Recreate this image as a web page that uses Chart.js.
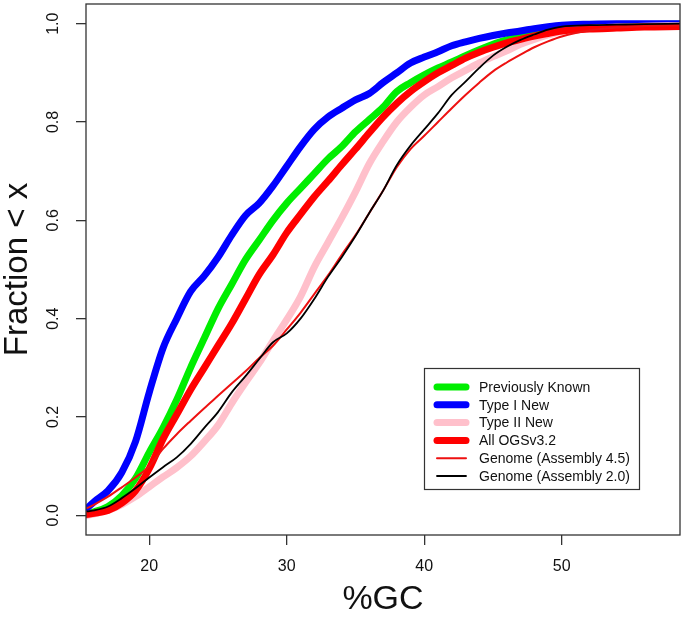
<!DOCTYPE html>
<html>
<head>
<meta charset="utf-8">
<script src="https://cdn.jsdelivr.net/npm/chart.js@4/dist/chart.umd.min.js"></script>
<style>
  html, body { margin: 0; padding: 0; background: #ffffff; }
  #wrap { width: 685px; height: 617px; }
</style>
</head>
<body>
<div id="wrap"><canvas id="c" width="685" height="617"></canvas></div>
<script>
// ---- data (cumulative fraction of genes with %GC < x) ----
const gc = [15.5,16,17,18,19,20,21,22,23,24,25,26,27,28,29,30,31,32,33,34,35,36,37,38,39,40,
            41,42,43,44,45,46,47,48,49,50,52,54,56,58.6];

const previouslyKnown = [0.003,0.007,0.018,0.04,0.075,0.128,0.178,0.235,0.30,0.36,0.42,0.47,0.52,0.56,0.60,0.635,
  0.665,0.695,0.725,0.75,0.78,0.805,0.83,0.862,0.88,0.896,0.91,0.922,0.935,0.947,0.958,0.967,0.975,0.982,0.987,0.991,
  0.995,0.997,0.998,0.999];

const typeINew = [0.015,0.028,0.05,0.087,0.15,0.25,0.34,0.40,0.455,0.487,0.525,0.57,0.61,0.635,0.67,0.71,
  0.75,0.785,0.81,0.828,0.845,0.858,0.88,0.90,0.92,0.932,0.943,0.955,0.963,0.97,0.976,0.981,0.985,0.99,0.994,0.997,
  0.999,1.0,1.0,1.0];

const typeIINew = [0.0,0.003,0.01,0.022,0.038,0.058,0.078,0.097,0.12,0.15,0.183,0.228,0.27,0.31,0.355,0.398,
  0.445,0.505,0.555,0.605,0.658,0.715,0.76,0.80,0.83,0.855,0.872,0.89,0.905,0.92,0.933,0.945,0.958,0.968,0.977,0.984,
  0.99,0.993,0.995,0.996];

const allOGS = [0.002,0.004,0.01,0.025,0.05,0.095,0.155,0.205,0.255,0.30,0.345,0.39,0.44,0.49,0.53,0.575,
  0.612,0.648,0.68,0.713,0.745,0.778,0.81,0.838,0.862,0.882,0.90,0.915,0.93,0.942,0.952,0.961,0.968,0.975,0.98,0.985,
  0.989,0.991,0.993,0.994];

const genome45 = [0.015,0.022,0.038,0.057,0.077,0.10,0.135,0.165,0.192,0.218,0.243,0.268,0.293,0.32,0.345,0.378,
  0.412,0.45,0.488,0.53,0.57,0.615,0.66,0.708,0.745,0.772,0.80,0.828,0.855,0.88,0.903,0.921,0.937,0.952,0.964,0.974,
  0.986,0.992,0.995,0.997];

const genome20 = [0.008,0.01,0.018,0.035,0.055,0.077,0.098,0.118,0.145,0.178,0.21,0.25,0.283,0.318,0.352,0.37,
  0.40,0.44,0.485,0.525,0.568,0.615,0.66,0.712,0.752,0.785,0.818,0.855,0.882,0.91,0.935,0.953,0.967,0.978,0.988,0.994,
  0.997,0.998,0.999,1.0];

const seriesLabels = ['Previously Known','Type I New','Type II New','All OGSv3.2','Genome (Assembly 4.5)','Genome (Assembly 2.0)'];
const xTicks = [20,30,40,50];
const yTicks = [0,0.2,0.4,0.6,0.8,1.0];

// ---- styling ----
const FONT = 'Liberation Sans, Arial, Helvetica, sans-serif';
const styles = [
  { color: '#00ee00', width: 7 },
  { color: '#0000ff', width: 7 },
  { color: '#ffc0cb', width: 7 },
  { color: '#ff0000', width: 7 },
  { color: '#ee1111', width: 2 },
  { color: '#000000', width: 1.8 }
];
const seriesValues = [previouslyKnown, typeINew, typeIINew, allOGS, genome45, genome20];

const datasets = seriesValues.map((vals, i) => ({
  label: seriesLabels[i],
  data: gc.map((x, k) => ({ x: x, y: vals[k] })),
  borderColor: styles[i].color,
  backgroundColor: styles[i].color,
  borderWidth: styles[i].width,
  borderCapStyle: 'round',
  borderJoinStyle: 'round',
  pointRadius: 0,
  fill: false,
  tension: 0,
  cubicInterpolationMode: 'monotone',
  order: seriesValues.length - i,
  clip: 0
}));

const boxPlugin = {
  id: 'rbox',
  afterDatasetsDraw(chart) {
    const a = chart.chartArea, ctx = chart.ctx;
    ctx.save();
    ctx.strokeStyle = '#333';
    ctx.lineWidth = 1.3;
    ctx.strokeRect(a.left, a.top, a.right - a.left, a.bottom - a.top);
    ctx.restore();
  }
};

const legendPlugin = {
  id: 'rlegend',
  afterDraw(chart) {
    const ctx = chart.ctx;
    const bx = 424.5, by = 368.5, bw = 215, bh = 121;
    ctx.save();
    ctx.fillStyle = '#fff';
    ctx.fillRect(bx, by, bw, bh);
    ctx.strokeStyle = '#333';
    ctx.lineWidth = 1.2;
    ctx.strokeRect(bx, by, bw, bh);
    ctx.font = '14px ' + FONT;
    ctx.textBaseline = 'middle';
    ctx.textAlign = 'left';
    chart.data.datasets.forEach((ds, i) => {
      const y = 387 + i * 17.8;
      ctx.beginPath();
      ctx.strokeStyle = ds.borderColor;
      ctx.lineWidth = ds.borderWidth;
      ctx.lineCap = 'round';
      ctx.moveTo(437, y);
      ctx.lineTo(466, y);
      ctx.stroke();
      ctx.fillStyle = '#111';
      ctx.fillText(ds.label, 479, y + 1);
    });
    ctx.restore();
  }
};

const zeroPad = s => { s.paddingTop = 0; s.paddingBottom = 0; s.paddingLeft = 0; s.paddingRight = 0; };

new Chart(document.getElementById('c'), {
  type: 'line',
  data: { datasets: datasets },
  plugins: [boxPlugin, legendPlugin],
  options: {
    responsive: false,
    devicePixelRatio: 1,
    animation: false,
    layout: { padding: { top: 4, right: 5, left: 0, bottom: 0 } },
    plugins: { legend: { display: false }, tooltip: { enabled: false } },
    scales: {
      x: {
        type: 'linear',
        min: 15.4,
        max: 58.6,
        afterBuildTicks: s => { s.ticks = xTicks.map(v => ({ value: v })); },
        afterFit: s => { s.height = 82; zeroPad(s); },
        border: { display: false },
        grid: { drawOnChartArea: false, drawTicks: true, tickLength: 10, tickColor: '#333', color: '#333', lineWidth: 1.3 },
        ticks: { autoSkip: false, maxRotation: 0, minRotation: 0, padding: 12, color: '#111',
                 font: { family: FONT, size: 16 } },
        title: { display: true, text: '%GC', color: '#111', padding: 0,
                 font: { family: FONT, size: 34, lineHeight: 1.0 } }
      },
      y: {
        type: 'linear',
        min: -0.04,
        max: 1.04,
        afterBuildTicks: s => { s.ticks = yTicks.map(v => ({ value: v })); },
        afterFit: s => { s.width = 86; zeroPad(s); },
        border: { display: false },
        grid: { drawOnChartArea: false, drawTicks: true, tickLength: 10, tickColor: '#333', color: '#333', lineWidth: 1.3 },
        ticks: { autoSkip: false, minRotation: 90, maxRotation: 90, crossAlign: 'center', padding: 11, color: '#111',
                 font: { family: FONT, size: 16 },
                 callback: v => Number(v).toFixed(1) },
        title: { display: true, text: 'Fraction < x', color: '#111', padding: 0,
                 font: { family: FONT, size: 33, lineHeight: 1.06 } }
      }
    }
  }
});
</script>
</body>
</html>
